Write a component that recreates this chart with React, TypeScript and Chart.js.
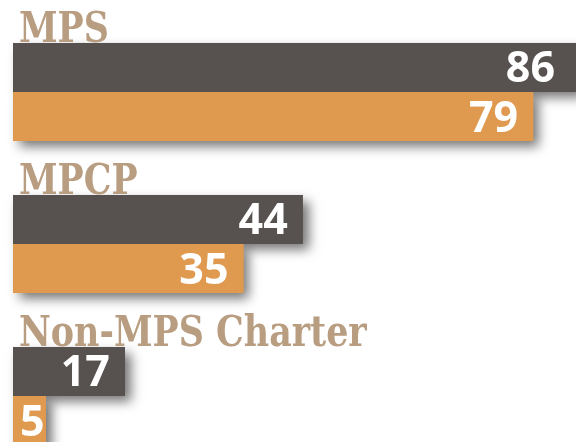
import React, { useEffect, useRef } from "react";
import { Chart, registerables } from "chart.js";

Chart.register(...registerables);

const categories = ["MPS", "MPCP", "Non-MPS Charter"];
const seriesNames = ["Series A", "Series B"];
const seriesA = [86, 44, 17];
const seriesB = [79, 35, 5];
const xMax = 85.5;

const DARK = "#575150";
const ORANGE = "#e09a50";
const TITLE = "#b89d81";

const decorPlugin = {
  id: "decor",
  beforeDatasetsDraw(chart: any) {
    const ctx = chart.ctx;
    ctx.save();
    ctx.shadowColor = "rgba(0,0,0,0.55)";
    ctx.shadowBlur = 11;
    ctx.shadowOffsetX = 6;
    ctx.shadowOffsetY = 6;
    chart.data.datasets.forEach((ds: any, di: number) => {
      const meta = chart.getDatasetMeta(di);
      meta.data.forEach((el: any) => {
        const left = Math.min(el.base, el.x);
        const w = Math.abs(el.x - el.base);
        ctx.fillStyle = ds.backgroundColor;
        ctx.fillRect(left, el.y - el.height / 2, w, el.height);
      });
    });
    ctx.restore();
  },
  afterDatasetsDraw(chart: any) {
    const ctx = chart.ctx;
    ctx.save();
    // value labels
    ctx.fillStyle = "#ffffff";
    ctx.font = 'bold 43px "Open Sans"';
    ctx.textAlign = "right";
    ctx.textBaseline = "alphabetic";
    chart.data.datasets.forEach((ds: any, di: number) => {
      const meta = chart.getDatasetMeta(di);
      meta.data.forEach((el: any, i: number) => {
        const txt = String(ds.data[i]);
        const tw = ctx.measureText(txt).width;
        const left = Math.min(el.base, el.x);
        const xr = Math.max(Math.min(el.x - 15, 555), left + 7 + tw);
        ctx.fillText(txt, xr, el.y + 15);
      });
    });
    // category titles
    const meta0 = chart.getDatasetMeta(0);
    ctx.fillStyle = TITLE;
    ctx.font = 'bold 42px "DejaVu Serif"';
    ctx.textAlign = "left";
    chart.data.labels.forEach((lab: string, i: number) => {
      const el = meta0.data[i];
      const top = el.y - el.height / 2;
      ctx.save();
      ctx.translate(19, top - 1);
      ctx.scale(0.83, 1);
      ctx.fillText(lab, 0, 0);
      ctx.restore();
    });
    ctx.restore();
  },
};

export default function App() {
  const ref = useRef<HTMLCanvasElement>(null);
  useEffect(() => {
    if (!ref.current) return;
    const chart = new Chart(ref.current, {
      type: "bar",
      data: {
        labels: categories,
        datasets: [
          {
            label: seriesNames[0],
            data: seriesA,
            backgroundColor: DARK,
            borderWidth: 0,
            categoryPercentage: 0.645,
            barPercentage: 1,
          },
          {
            label: seriesNames[1],
            data: seriesB,
            backgroundColor: ORANGE,
            borderWidth: 0,
            categoryPercentage: 0.645,
            barPercentage: 1,
          },
        ],
      },
      options: {
        indexAxis: "y",
        animation: false,
        responsive: false,
        maintainAspectRatio: false,
        layout: { padding: { left: 13, top: 16, right: 0, bottom: 0 } },
        plugins: {
          legend: { display: false },
          tooltip: { enabled: false },
        },
        scales: {
          x: { type: "linear", min: 0, max: xMax, display: false },
          y: { type: "category", display: false, offset: true },
        },
      },
      plugins: [decorPlugin],
    });
    return () => chart.destroy();
  }, []);
  return (
    <div
      style={{
        position: "fixed",
        top: 0,
        left: 0,
        width: 576,
        height: 442,
        overflow: "hidden",
        background: "#ffffff",
      }}
    >
      <canvas ref={ref} width={576} height={472} style={{ display: "block", width: 576, height: 472 }} />
    </div>
  );
}
